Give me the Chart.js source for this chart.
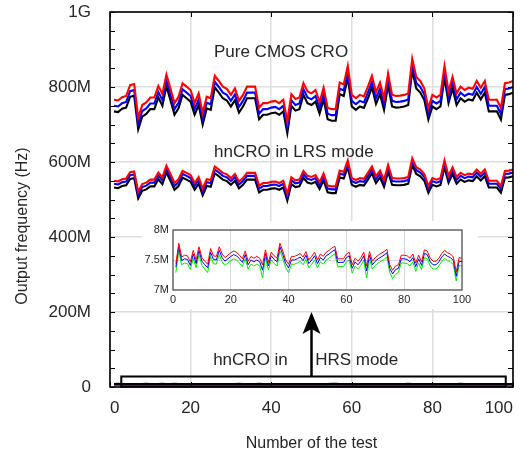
<!DOCTYPE html>
<html>
<head>
<meta charset="utf-8">
<script src="https://cdn.jsdelivr.net/npm/chart.js@4.4.0/dist/chart.umd.min.js"></script>
<style>
  html, body { margin: 0; padding: 0; background: #fff; }
  #wrap { position: relative; width: 525px; height: 453px; }
  #main { position: absolute; left: 0; top: 0; }
  #inset { position: absolute; left: 142px; top: 221px; background: #fff; }
</style>
</head>
<body>
<div id="wrap">
  <canvas id="main" width="525" height="453"></canvas>
  <canvas id="inset" width="336" height="88"></canvas>
</div>
<script>
// test number 1..100 (x categories)
const tests = Array.from({ length: 100 }, (_, i) => i + 1);

// main y ticks, values in MHz
const yTickLabels = { 0: '0', 200: '200M', 400: '400M', 600: '600M', 800: '800M', 1000: '1G' };
const insetTickLabels = { 7: '7M', 7.5: '7.5M', 8: '8M' };

// Pure CMOS CRO (MHz)
const cmosRed = [766,764,773,776,805,808,718,752,759,772, 772,803,781,833,796,757,774,810,801,792,
  757,783,731,774,770,830,816,801,795,779, 796,763,779,801,801,801,745,757,757,761,
  763,757,766,708,781,768,772,810,788,783, 792,760,798,745,741,741,812,807,856,779,
  770,779,775,801,830,786,812,770,836,779, 776,777,779,783,875,827,816,796,744,779,
  772,779,856,788,827,783,801,792,798,795, 816,798,816,766,766,766,744,810,812,816];
const cmosBlue = [750,748,757,760,789,792,702,736,743,756, 756,787,765,817,780,741,758,794,785,776,
  741,767,715,758,754,814,800,785,779,763, 780,747,763,785,785,785,729,741,741,745,
  747,741,750,692,765,752,756,794,772,767, 776,744,782,729,725,725,796,791,840,763,
  754,763,759,785,814,770,796,754,820,763, 760,761,763,767,859,811,800,780,728,763,
  756,763,840,772,811,767,785,776,782,779, 800,782,800,750,750,750,728,794,796,800];
const cmosBlack = [735,733,742,745,774,777,687,721,728,741, 741,772,750,802,765,726,743,779,770,761,
  726,752,700,743,739,799,785,770,764,748, 765,732,748,770,770,770,714,726,726,730,
  732,726,735,677,750,737,741,779,757,752, 761,729,767,714,710,710,781,776,825,748,
  739,748,744,770,799,755,781,739,805,748, 745,746,748,752,844,796,785,765,713,748,
  741,748,825,757,796,752,770,761,767,764, 785,767,785,735,735,735,713,779,781,785];

// hnCRO in LRS mode (MHz)
const lrsRed = [550,548,554,556,573,575,521,541,545,553, 553,572,559,590,568,544,554,576,571,565,
  544,560,529,554,552,588,580,571,567,557, 568,548,557,571,571,571,537,544,544,547,
  548,544,550,515,559,551,553,576,563,560, 565,546,569,537,535,535,577,574,604,557,
  552,557,555,571,588,562,577,552,592,557, 556,556,557,560,610,586,580,568,536,557,
  553,557,604,563,586,560,571,565,569,567, 580,569,580,550,550,550,536,576,577,580];
const lrsBlue = [542,540,546,548,565,567,513,533,537,545, 545,564,551,582,560,536,546,568,563,557,
  536,552,521,546,544,580,572,563,559,549, 560,540,549,563,563,563,529,536,536,539,
  540,536,542,507,551,543,545,568,555,552, 557,538,561,529,527,527,569,566,596,549,
  544,549,547,563,580,554,569,544,584,549, 548,548,549,552,602,578,572,560,528,549,
  545,549,596,555,578,552,563,557,561,559, 572,561,572,542,542,542,528,568,569,572];
const lrsBlack = [532,530,536,538,555,557,503,523,527,535, 535,554,541,572,550,526,536,558,553,547,
  526,542,511,536,534,570,562,553,549,539, 550,530,539,553,553,553,519,526,526,529,
  530,526,532,497,541,533,535,558,545,542, 547,528,551,519,517,517,559,556,586,539,
  534,539,537,553,570,544,559,534,574,539, 538,538,539,542,592,568,562,550,518,539,
  535,539,586,545,568,542,553,547,551,549, 562,551,562,532,532,532,518,558,559,562];

// hnCRO in HRS mode (MHz)
const hrsRed = [7.44,7.78,7.55,7.58,7.57,7.47,7.66,7.50,7.72,7.54, 7.48,7.43,7.69,7.57,7.56,7.72,7.60,7.54,7.58,7.62,
  7.65,7.63,7.58,7.52,7.65,7.48,7.56,7.53,7.56,7.53, 7.42,7.67,7.46,7.63,7.57,7.53,7.78,7.65,7.50,7.43,
  7.56,7.56,7.58,7.61,7.55,7.64,7.50,7.56,7.63,7.50, 7.60,7.56,7.63,7.66,7.70,7.73,7.52,7.52,7.52,7.60,
  7.63,7.42,7.53,7.48,7.54,7.63,7.40,7.64,7.48,7.54, 7.58,7.61,7.64,7.68,7.42,7.33,7.40,7.42,7.58,7.58,
  7.57,7.53,7.60,7.45,7.58,7.47,7.67,7.65,7.53,7.48, 7.48,7.53,7.61,7.66,7.62,7.60,7.55,7.30,7.54,7.53];
const hrsBlue = [7.38,7.72,7.49,7.52,7.51,7.41,7.60,7.44,7.66,7.48, 7.42,7.37,7.63,7.51,7.50,7.66,7.54,7.48,7.52,7.56,
  7.59,7.57,7.52,7.46,7.59,7.42,7.50,7.47,7.50,7.47, 7.33,7.61,7.40,7.57,7.51,7.47,7.72,7.59,7.44,7.37,
  7.50,7.50,7.52,7.55,7.49,7.58,7.44,7.50,7.57,7.44, 7.54,7.50,7.57,7.60,7.64,7.67,7.46,7.46,7.46,7.54,
  7.57,7.36,7.47,7.42,7.48,7.57,7.32,7.58,7.42,7.48, 7.52,7.55,7.58,7.62,7.36,7.27,7.34,7.36,7.52,7.52,
  7.51,7.47,7.54,7.39,7.52,7.41,7.61,7.59,7.47,7.42, 7.42,7.47,7.55,7.60,7.56,7.54,7.49,7.23,7.48,7.47];
const hrsGreen = [7.29,7.65,7.42,7.45,7.44,7.34,7.53,7.37,7.59,7.41, 7.35,7.29,7.56,7.44,7.43,7.59,7.47,7.41,7.45,7.49,
  7.52,7.50,7.45,7.39,7.52,7.35,7.43,7.40,7.43,7.40, 7.20,7.54,7.33,7.50,7.44,7.40,7.65,7.52,7.37,7.29,
  7.43,7.43,7.45,7.48,7.42,7.51,7.37,7.43,7.50,7.37, 7.47,7.43,7.50,7.53,7.57,7.60,7.39,7.39,7.39,7.47,
  7.50,7.28,7.40,7.35,7.41,7.50,7.20,7.51,7.35,7.41, 7.45,7.48,7.51,7.55,7.29,7.19,7.26,7.29,7.45,7.45,
  7.44,7.40,7.47,7.31,7.45,7.34,7.54,7.52,7.40,7.35, 7.35,7.40,7.48,7.53,7.49,7.47,7.42,7.15,7.41,7.40];

// annotations in data coordinates (x = test, y = MHz)
const notes = [
  { text: 'Pure CMOS CRO', x: 25.8, y: 893 },
  { text: 'hnCRO in LRS mode', x: 25.8, y: 627 },
  { text: 'hnCRO in', x: 25.6, y: 70 },
  { text: 'HRS mode', x: 50.9, y: 70 }
];
const hrsBox = { x0: 2.8, x1: 98.2, y0: 1, y1: 28 };
const arrow = { x: 50, from: 28, to: 200 };

const FONT = "'Liberation Sans', Arial, Helvetica, sans-serif";
const TXT = '#262626';
Chart.defaults.font.family = FONT;
Chart.defaults.color = TXT;

const pts = arr => arr.map((v, i) => ({ x: tests[i], y: v }));
const line = (arr, color, w) => ({
  data: pts(arr), borderColor: color, backgroundColor: color,
  borderWidth: w, pointRadius: 0, fill: false, tension: 0
});

const mainDecor = {
  id: 'mainDecor',
  afterDatasetsDraw(chart) {
    const { ctx, chartArea: a, scales: { x, y } } = chart;
    ctx.save();
    ctx.strokeStyle = '#000';
    ctx.lineWidth = 1;
    ctx.beginPath();
    y.ticks.forEach(t => {
      const py = Math.round(y.getPixelForValue(t.value)) + 0.5;
      ctx.moveTo(a.left, py); ctx.lineTo(a.left + 5, py);
      ctx.moveTo(a.right, py); ctx.lineTo(a.right - 5, py);
    });
    x.ticks.forEach(t => {
      const px = Math.round(x.getPixelForValue(t.value)) + 0.5;
      ctx.moveTo(px, a.bottom); ctx.lineTo(px, a.bottom - 5);
      ctx.moveTo(px, a.top); ctx.lineTo(px, a.top + 5);
    });
    ctx.stroke();
    ctx.lineWidth = 1.6;
    ctx.strokeRect(a.left, a.top, a.width, a.height);

    // HRS frame
    const bx0 = x.getPixelForValue(hrsBox.x0), bx1 = x.getPixelForValue(hrsBox.x1);
    const by0 = y.getPixelForValue(hrsBox.y0), by1 = y.getPixelForValue(hrsBox.y1);
    ctx.lineWidth = 2;
    ctx.strokeRect(bx0, by1, bx1 - bx0, by0 - by1);

    // arrow
    const ax = x.getPixelForValue(arrow.x);
    const ay0 = y.getPixelForValue(arrow.from), ay1 = y.getPixelForValue(arrow.to);
    ctx.lineWidth = 2.5;
    ctx.beginPath();
    ctx.moveTo(ax, ay0); ctx.lineTo(ax, ay1 + 16);
    ctx.stroke();
    ctx.fillStyle = '#000';
    ctx.beginPath();
    ctx.moveTo(ax, ay1);
    ctx.lineTo(ax - 9, ay1 + 22);
    ctx.lineTo(ax, ay1 + 17);
    ctx.lineTo(ax + 9, ay1 + 22);
    ctx.closePath();
    ctx.fill();

    // texts
    ctx.fillStyle = TXT;
    ctx.font = '17px ' + FONT;
    ctx.textAlign = 'left';
    ctx.textBaseline = 'middle';
    notes.forEach(n => ctx.fillText(n.text, x.getPixelForValue(n.x), y.getPixelForValue(n.y)));

    // y axis title
    ctx.font = '16px ' + FONT;
    ctx.textAlign = 'center';
    ctx.translate(23, 226);
    ctx.rotate(-Math.PI / 2);
    ctx.fillText('Output frequency (Hz)', 0, 0);
    ctx.restore();
  }
};

// first dataset is drawn on top
new Chart(document.getElementById('main'), {
  type: 'line',
  data: {
    datasets: [
      line(hrsGreen, '#000000', 2.6), line(hrsBlue, '#0000ff', 2), line(hrsRed, '#ff0000', 2),
      line(cmosRed, '#ff0000', 2.1), line(cmosBlue, '#0000ff', 2.1), line(cmosBlack, '#000000', 2.1),
      line(lrsRed, '#ff0000', 2.1), line(lrsBlue, '#0000ff', 2.1), line(lrsBlack, '#000000', 2.1)
    ]
  },
  options: {
    responsive: false,
    animation: false,
    layout: { padding: { left: 0, right: 12, top: 12, bottom: 0 } },
    plugins: { legend: { display: false }, tooltip: { enabled: false } },
    scales: {
      x: {
        type: 'linear', min: 0, max: 100,
        ticks: { stepSize: 20, font: { size: 17 }, padding: 11, maxRotation: 0, align: 'inner' },
        grid: { color: '#dedede', lineWidth: 1.5, drawTicks: false },
        border: { display: false },
        title: { display: true, text: 'Number of the test', font: { size: 16 }, padding: { top: 0, bottom: 0 } },
        afterFit: s => { s.height = 66; s.paddingLeft = 0; s.paddingRight = 0; }
      },
      y: {
        min: 0, max: 1000,
        ticks: {
          stepSize: 50, autoSkip: false, font: { size: 17 }, padding: 19,
          callback: v => (v in yTickLabels ? yTickLabels[v] : '')
        },
        grid: {
          drawTicks: false, lineWidth: 1.5,
          color: c => (c.tick.value % 200 === 0 ? '#dedede' : 'rgba(0,0,0,0)')
        },
        border: { display: false },
        afterFit: s => { s.width = 110; s.paddingTop = 0; s.paddingBottom = 0; }
      }
    }
  },
  plugins: [mainDecor]
});

const insetBox = {
  id: 'insetBox',
  afterDatasetsDraw(chart) {
    const { ctx, chartArea: a } = chart;
    ctx.save();
    ctx.strokeStyle = '#404040';
    ctx.lineWidth = 1.2;
    ctx.strokeRect(a.left, a.top, a.width, a.height);
    ctx.restore();
  }
};

new Chart(document.getElementById('inset'), {
  type: 'line',
  data: {
    datasets: [
      line(hrsRed, '#ff0000', 1), line(hrsBlue, '#0000ff', 1), line(hrsGreen, '#00ee00', 1)
    ]
  },
  options: {
    responsive: false,
    animation: false,
    layout: { padding: { left: 0, right: 16, top: 9, bottom: 0 } },
    plugins: { legend: { display: false }, tooltip: { enabled: false } },
    scales: {
      x: {
        type: 'linear', min: 0, max: 100,
        ticks: { stepSize: 20, font: { size: 11 }, padding: 3, maxRotation: 0 },
        grid: {
          drawTicks: false,
          color: c => (c.tick.value > 0 && c.tick.value < 100 ? '#d6d6d6' : 'rgba(0,0,0,0)')
        },
        border: { display: false },
        afterFit: s => { s.height = 19; s.paddingLeft = 0; s.paddingRight = 0; }
      },
      y: {
        min: 7, max: 8,
        ticks: {
          stepSize: 0.5, font: { size: 11 }, padding: 4,
          callback: v => insetTickLabels[v] || ''
        },
        grid: {
          drawTicks: false,
          color: c => (c.tick.value === 7.5 ? '#d6d6d6' : 'rgba(0,0,0,0)')
        },
        border: { display: false },
        afterFit: s => { s.width = 31; s.paddingTop = 0; s.paddingBottom = 0; }
      }
    }
  },
  plugins: [insetBox]
});
</script>
</body>
</html>
